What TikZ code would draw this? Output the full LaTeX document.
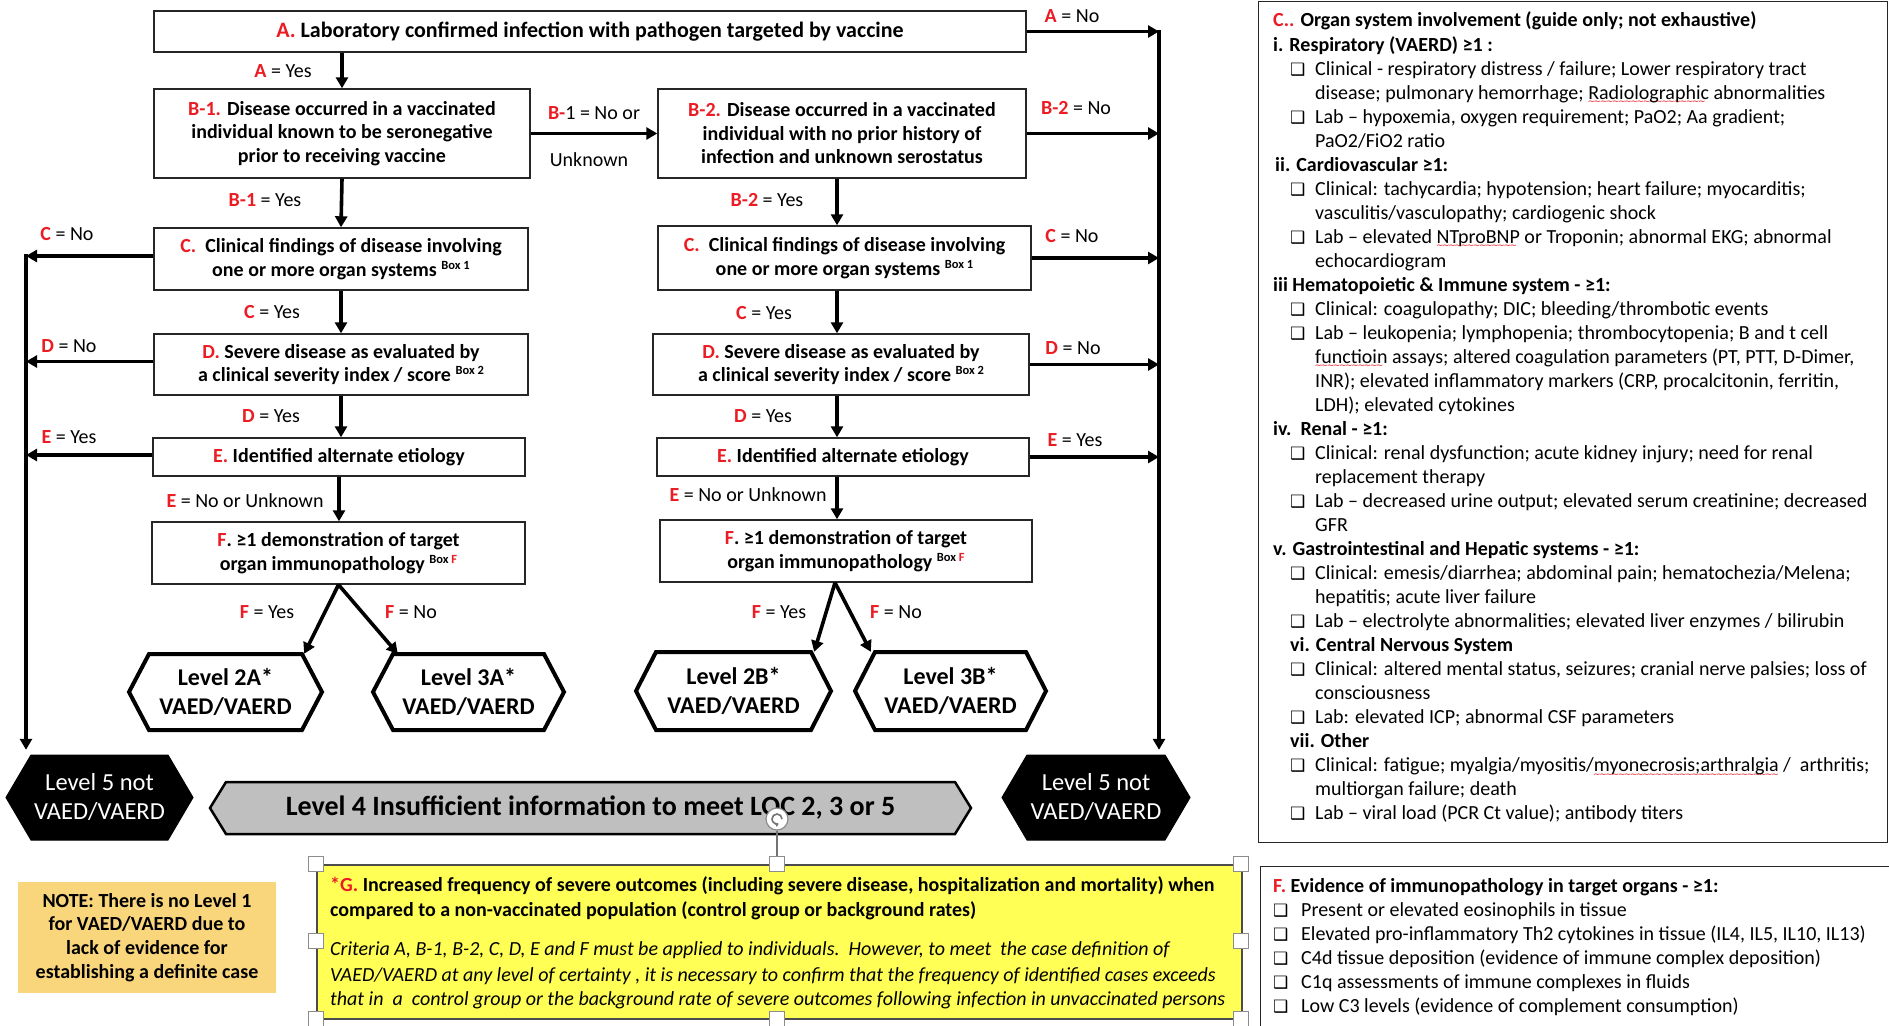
\documentclass[tikz,border=0pt]{standalone}
\usepackage{fontspec}
\setmainfont{Carlito}
\newfontfamily\dejavu{DejaVu Sans}
\usetikzlibrary{arrows.meta,calc}
\definecolor{myred}{RGB}{235,28,36}
\definecolor{lvgray}{RGB}{191,191,191}
\definecolor{yel}{RGB}{255,255,85}
\definecolor{notec}{RGB}{249,214,124}
\newcommand\R[1]{\textcolor{myred}{#1}}
\newcommand\Rb[1]{\textcolor{myred}{\bfseries #1}}
\newcommand\Bx[1]{\raisebox{7pt}{\fontsize{12.5}{12.5}\selectfont #1}}
\newlength\wvlen
\newcommand\redwave[1]{\settowidth\wvlen{#1}\rlap{\raisebox{-5.5pt}[0pt][0pt]{\color{myred}\leaders\hbox{\dejavu\fontsize{9}{9}\selectfont\kern-0.7pt∼\kern-0.7pt}\hskip\wvlen}}#1}
\newcommand\CB{{\dejavu\fontsize{17}{17}\selectfont ❑}}
% C-panel lines
\newcommand\Hd[3]{\node[lnb] (c#1) at (#2,{27+#1*24.02}) {#3};}
\newcommand\Cb[2]{\node[ln] (cb#1) at (1290,{27+#1*24.02}) {\CB}; \node[ln] (c#1) at (1315,{27+#1*24.02}) {#2};}
\newcommand\Ct[2]{\node[ln] (c#1) at (1315,{27+#1*24.02}) {#2};}
% F-panel lines
\newcommand\Fb[2]{\node[ln] (fb#1) at (1273,{892+#1*24}) {\CB}; \node[ln] (f#1) at (1301,{892+#1*24}) {#2};}
% hexagon: name, cx, cy, w, h, inset, path style, node style, text
\newcommand\Hex[9]{%
 \path[#7] ({#2-#4/2+#6},{#3-#5/2}) -- ({#2+#4/2-#6},{#3-#5/2}) -- ({#2+#4/2},{#3}) -- ({#2+#4/2-#6},{#3+#5/2}) -- ({#2-#4/2+#6},{#3+#5/2}) -- ({#2-#4/2},{#3}) -- cycle;
 \node[#8, minimum width=#4pt, minimum height=#5pt, inner sep=0pt, align=center] (#1) at (#2,#3) {#9};}
\tikzset{
 box/.style={draw=black!85, line width=1.4pt, align=center, inner sep=0pt,
   font=\bfseries\fontsize{20}{23.5}\selectfont},
 arr/.style={line width=3.6pt, -{Triangle[length=11pt,width=12pt]}},
 lab/.style={inner sep=0pt, font=\fontsize{20}{22}\selectfont},
 ln/.style={anchor=base west, inner sep=0pt, font=\fontsize{20}{24}\selectfont},
 lnb/.style={ln, font=\bfseries\fontsize{20}{24}\selectfont},
 lni/.style={ln, font=\itshape\fontsize{20}{24}\selectfont},
 hexp/.style={draw=black, line width=4pt, fill=white},
 hext/.style={font=\bfseries\fontsize{24}{29}\selectfont},
 l5p/.style={draw=black, line width=1pt, fill=black},
 l5t/.style={text=white, font=\fontsize{24.5}{29}\selectfont},
 l4p/.style={draw=black, line width=2.5pt, fill=lvgray},
 l4t/.style={font=\bfseries\fontsize{28}{30}\selectfont},
 handle/.style={draw=black!45, fill=white, line width=1pt, minimum size=15pt, inner sep=0pt},
}
\begin{document}
\begin{tikzpicture}[x=1pt,y=-1pt]
\useasboundingbox (0,0) rectangle (1889,1025);
\fill[white] (0,0) rectangle (1889,1025);
% guide coordinates
\coordinate (LL) at (26,0);
\coordinate (RL) at (1159,0);
\coordinate (rx) at (837,0);
% boxes
\node[box, minimum width=872pt, minimum height=41pt, font=\bfseries\fontsize{22}{24}\selectfont] (A) at (590,31.5) {\R{A.} Laboratory confirmed infection with pathogen targeted by vaccine};
\node[box, minimum width=376pt, minimum height=89pt] (B1) at (342,133.5) {\R{B-1.} Disease occurred in a vaccinated\\individual known to be seronegative\\prior to receiving vaccine};
\node[box, minimum width=368pt, minimum height=89pt] (B2) at (842,133.5) {\R{B-2.} Disease occurred in a vaccinated\\individual with no prior history of\\infection and unknown serostatus};
\node[box, minimum width=374pt, minimum height=62pt] (Cl) at (341,259) {\R{C.}\ \ Clinical findings of disease involving\\one or more organ systems \Bx{Box 1}};
\node[box, minimum width=373pt, minimum height=64pt] (Cr) at (844.5,258) {\R{C.}\ \ Clinical findings of disease involving\\one or more organ systems \Bx{Box 1}};
\node[box, minimum width=374pt, minimum height=61pt] (Dl) at (341,364.5) {\R{D.} Severe disease as evaluated by\\a clinical severity index / score \Bx{Box 2}};
\node[box, minimum width=376pt, minimum height=61pt] (Dr) at (841,364.5) {\R{D.} Severe disease as evaluated by\\a clinical severity index / score \Bx{Box 2}};
\node[box, minimum width=372pt, minimum height=38pt] (El) at (339,457) {\R{E.} Identified alternate etiology};
\node[box, minimum width=372pt, minimum height=38pt] (Er) at (843,457) {\R{E.} Identified alternate etiology};
\node[box, minimum width=373pt, minimum height=62pt] (Fl) at (338.5,553) {\R{F}. ≥1 demonstration of target\\organ immunopathology \Bx{Box \R{F}}};
\node[box, minimum width=372pt, minimum height=62pt] (Fr) at (846,551) {\R{F}. ≥1 demonstration of target\\organ immunopathology \Bx{Box \R{F}}};
% hexagons
\Hex{L2A}{225.5}{692}{193}{76}{20}{hexp}{hext}{Level 2A*\\VAED/VAERD}
\Hex{L3A}{468.5}{692}{191}{76}{20}{hexp}{hext}{Level 3A*\\VAED/VAERD}
\Hex{L2B}{733.5}{691}{195}{78}{20}{hexp}{hext}{Level 2B*\\VAED/VAERD}
\Hex{L3B}{950.5}{691}{191}{78}{20}{hexp}{hext}{Level 3B*\\VAED/VAERD}
\Hex{L5L}{99.5}{797.5}{187}{85}{25}{l5p}{l5t}{Level 5 not\\VAED/VAERD}
\Hex{L5R}{1096}{797.5}{188}{85}{25}{l5p}{l5t}{Level 5 not\\VAED/VAERD}
\Hex{L4}{590.5}{808}{761}{52}{16}{l4p}{l4t}{Level 4 Insufficient information to meet LOC 2, 3 or 5}
% connectors
\draw[arr] (A.south -| B1.north) -- (B1.north);
\draw[arr] (B1.east) -- (B2.west);
\draw[arr] (B1.south) -- (Cl.north);
\draw[arr] (B2.south -| rx) -- (Cr.north -| rx);
\draw[arr] (Cl.south) -- (Dl.north);
\draw[arr] (Cr.south -| rx) -- (Dr.north -| rx);
\draw[arr] (Dl.south) -- (Dl.south |- El.north);
\draw[arr] (Dr.south -| rx) -- (Er.north -| rx);
\draw[arr] (El.south) -- (El.south |- Fl.north);
\draw[arr] (Er.south -| rx) -- (Fr.north -| rx);
\draw[arr] (Fl.south) -- ([xshift=-18pt]L2A.north east);
\draw[arr] (Fl.south) -- ([xshift=25pt]L3A.north west);
\draw[arr] ([xshift=-11pt]Fr.south) -- ([xshift=-17pt]L2B.north east);
\draw[arr] ([xshift=-11pt]Fr.south) -- ([xshift=16pt]L3B.north west);
% left exits
\draw[arr] ([yshift=3pt]Cl.west) -- ([yshift=3pt]Cl.west -| LL);
\draw[arr] ([yshift=3pt]Dl.west) -- ([yshift=3pt]Dl.west -| LL);
\draw[arr] ([yshift=2pt]El.west) -- ([yshift=2pt]El.west -| LL);
\draw[arr, line cap=rect, shorten >=5pt] ([yshift=3pt]Cl.west -| LL) -- (LL |- L5L.north);
% right exits
\draw[arr] (A.east) -- (A.east -| RL);
\draw[arr] (B2.east) -- (B2.east -| RL);
\draw[arr] (Cr.east) -- (Cr.east -| RL);
\draw[arr] (Dr.east) -- (Dr.east -| RL);
\draw[arr] (Er.east) -- (Er.east -| RL);
\draw[arr, line cap=rect, shorten >=5pt] (A.east -| RL) -- (RL |- L5R.north);
% labels
\node[lab] (lAy) at (283,71) {\Rb{A} = Yes};
\node[lab] (lB1n) at (594,113) {\Rb{B-}1 = No or};
\node[lab] (lB1u) at (589,160) {Unknown};
\node[lab] (lAn) at (1072,16) {\Rb{A} = No};
\node[lab] (lB2n) at (1076,108) {\Rb{B-2} = No};
\node[lab] (lB1y) at (265,200) {\Rb{B-1} = Yes};
\node[lab] (lB2y) at (767,200) {\Rb{B-2} = Yes};
\node[lab] (lCnL) at (67,234) {\Rb{C} = No};
\node[lab] (lCnR) at (1072,236) {\Rb{C} = No};
\node[lab] (lCyL) at (272,312) {\Rb{C} = Yes};
\node[lab] (lCyR) at (764,313) {\Rb{C} = Yes};
\node[lab] (lDnL) at (69,346) {\Rb{D} = No};
\node[lab] (lDnR) at (1073,348) {\Rb{D} = No};
\node[lab] (lDyL) at (271,416) {\Rb{D} = Yes};
\node[lab] (lDyR) at (763,416) {\Rb{D} = Yes};
\node[lab] (lEyL) at (69,437) {\Rb{E} = Yes};
\node[lab] (lEyR) at (1075,440) {\Rb{E} = Yes};
\node[lab] (lEnL) at (245,501) {\Rb{E} = No or Unknown};
\node[lab] (lEnR) at (748,495) {\Rb{E} = No or Unknown};
\node[lab] (lFyL) at (267,612) {\Rb{F} = Yes};
\node[lab] (lFnL) at (411,612) {\Rb{F} = No};
\node[lab] (lFyR) at (779,612) {\Rb{F} = Yes};
\node[lab] (lFnR) at (896,612) {\Rb{F} = No};
% note box
\node[fill=notec, minimum width=258pt, minimum height=111pt, align=center, inner sep=0pt,
  font=\bfseries\fontsize{20}{23.7}\selectfont] (note) at (147,937.5)
  {NOTE: There is no Level 1\\for VAED/VAERD due to\\lack of evidence for\\establishing a definite case};
% G box
\node[draw=black!70, fill=yel, line width=2pt, anchor=north west, minimum width=925pt, minimum height=154pt, inner sep=0pt] (gbox) at (316,864) {};
\node[lnb] (g1) at (330,891) {\R{*G.} Increased frequency of severe outcomes (including severe disease, hospitalization and mortality) when};
\node[lnb] (g2) at (330,916) {compared to a non-vaccinated population (control group or background rates)};
\node[lni] (g3) at (330,955) {Criteria A, B-1, B-2, C, D, E and F must be applied to individuals.\ \ However, to meet\ \ the case definition of};
\node[lni] (g4) at (330,981) {VAED/VAERD at any level of certainty , it is necessary to confirm that the frequency of identified cases exceeds};
\node[lni] (g5) at (330,1005) {that in\ \ a\ \ control group or the background rate of severe outcomes following infection in unvaccinated persons};
% selection handles
\node[circle, draw=black!45, fill=white, line width=1.2pt, minimum size=22pt, inner sep=0pt] (rot) at (777,819) {};
\draw[black!55, line width=1.6pt, -{Triangle[length=3pt,width=4.5pt]}] ([xshift=5pt]rot.center) arc[start angle=0, end angle=290, radius=5pt];
\node[handle] (h1) at (316,864) {};
\node[handle] (h2) at (777,864) {};
\node[handle] (h3) at (1241,864) {};
\node[handle] (h4) at (316,941) {};
\node[handle] (h5) at (1241,941) {};
\node[handle] (h6) at (316,1019) {};
\node[handle] (h7) at (777,1019) {};
\node[handle] (h8) at (1241,1019) {};
\draw[black!55, line width=1.2pt] (rot.south) -- (h2.north);
% C panel
\node[draw=black!85, line width=1.4pt, anchor=north west, minimum width=629pt, minimum height=841pt, inner sep=0pt] (cbox) at (1258,1) {};
\Hd{0}{1273}{\R{C..} Organ system involvement (guide only; not exhaustive)}
\Hd{1}{1273}{i. Respiratory (VAERD) ≥1 :}
\Cb{2}{Clinical - respiratory distress / failure; Lower respiratory tract}
\Ct{3}{disease; pulmonary hemorrhage; \redwave{Radiolographic} abnormalities}
\Cb{4}{Lab – hypoxemia, oxygen requirement; PaO2; Aa gradient;}
\Ct{5}{PaO2/FiO2 ratio}
\Hd{6}{1275}{ii. Cardiovascular ≥1:}
\Cb{7}{Clinical: tachycardia; hypotension; heart failure; myocarditis;}
\Ct{8}{vasculitis/vasculopathy; cardiogenic shock}
\Cb{9}{Lab – elevated \redwave{NTproBNP} or Troponin; abnormal EKG; abnormal}
\Ct{10}{echocardiogram}
\Hd{11}{1273}{iii Hematopoietic \& Immune system - ≥1:}
\Cb{12}{Clinical: coagulopathy; DIC; bleeding/thrombotic events}
\Cb{13}{Lab – leukopenia; lymphopenia; thrombocytopenia; B and t cell}
\Ct{14}{\redwave{functioin} assays; altered coagulation parameters (PT, PTT, D-Dimer,}
\Ct{15}{INR); elevated inflammatory markers (CRP, procalcitonin, ferritin,}
\Ct{16}{LDH); elevated cytokines}
\Hd{17}{1273}{iv.\ \ Renal - ≥1:}
\Cb{18}{Clinical: renal dysfunction; acute kidney injury; need for renal}
\Ct{19}{replacement therapy}
\Cb{20}{Lab – decreased urine output; elevated serum creatinine; decreased}
\Ct{21}{GFR}
\Hd{22}{1273}{v. Gastrointestinal and Hepatic systems - ≥1:}
\Cb{23}{Clinical: emesis/diarrhea; abdominal pain; hematochezia/Melena;}
\Ct{24}{hepatitis; acute liver failure}
\Cb{25}{Lab – electrolyte abnormalities; elevated liver enzymes / bilirubin}
\Hd{26}{1290}{vi. Central Nervous System}
\Cb{27}{Clinical: altered mental status, seizures; cranial nerve palsies; loss of}
\Ct{28}{consciousness}
\Cb{29}{Lab: elevated ICP; abnormal CSF parameters}
\Hd{30}{1290}{vii. Other}
\Cb{31}{Clinical: fatigue; myalgia/myositis/\redwave{myonecrosis;arthralgia} /\ \ arthritis;}
\Ct{32}{multiorgan failure; death}
\Cb{33}{Lab – viral load (PCR Ct value); antibody titers}
% F panel
\node[draw=black!85, line width=1.4pt, anchor=north west, minimum width=640pt, minimum height=175pt, inner sep=0pt] (fbox) at (1260,866) {};
\node[lnb] (f0) at (1273,892) {\R{F.} Evidence of immunopathology in target organs - ≥1:};
\Fb{1}{Present or elevated eosinophils in tissue}
\Fb{2}{Elevated pro-inflammatory Th2 cytokines in tissue (IL4, IL5, IL10, IL13)}
\Fb{3}{C4d tissue deposition (evidence of immune complex deposition)}
\Fb{4}{C1q assessments of immune complexes in fluids}
\Fb{5}{Low C3 levels (evidence of complement consumption)}
\end{tikzpicture}
\end{document}
